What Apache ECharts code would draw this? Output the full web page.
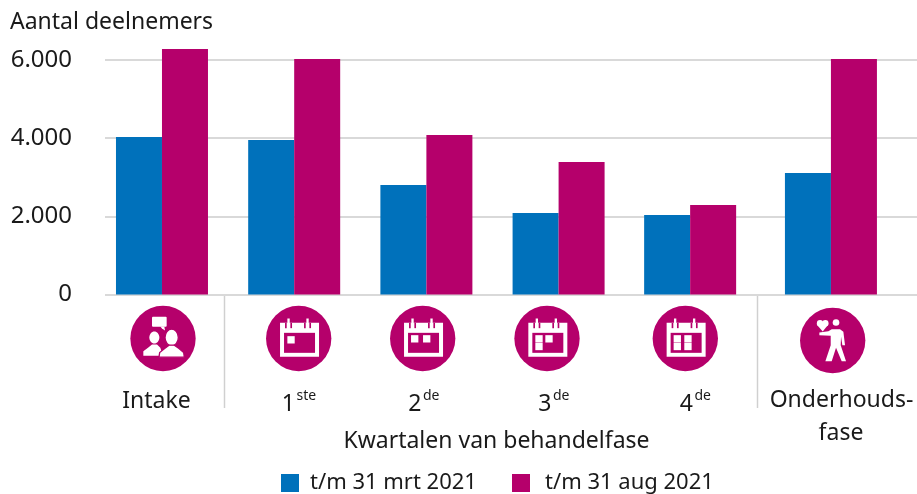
<!DOCTYPE html>
<html lang="nl">
<head>
<meta charset="UTF-8">
<title>Aantal deelnemers</title>
<script src="https://cdn.jsdelivr.net/npm/echarts@6/dist/echarts.min.js"></script>
<style>
  html, body { margin: 0; padding: 0; background: #fff; }
  #chart { width: 917px; height: 494px; }
</style>
</head>
<body>
<div id="chart"></div>
<script>
const fontName = '"Noto Sans"';
const textColor = '#1a1a1a';
const blue = '#0071bb';
const magenta = '#b5006b';
const grey = '#d9d9d9';

const seriesNames = ['t/m 31 mrt 2021', 't/m 31 aug 2021'];
// group slots along the x axis, the last group sits a little further out
const slots = [0, 1, 2, 3, 3.995, 5.06];
const mrt2021 = [4030, 3950, 2800, 2085, 2035, 3110];
const aug2021 = [6280, 6025, 4080, 3390, 2290, 6025];
const yTicks = [0, 2000, 4000, 6000];

const chart = echarts.init(document.getElementById('chart'));

function txt(x, y, text, extra) {
  return {
    type: 'text', x: x, y: y, silent: true,
    style: Object.assign({
      text: text, fill: textColor, font: '23px ' + fontName,
      textAlign: 'center', textVerticalAlign: 'middle'
    }, extra || {})
  };
}

// ordinal label: large digit plus raised suffix
function ordinal(x, y, num, suffix) {
  return {
    type: 'group', silent: true, children: [
      txt(x, y, num, { textAlign: 'right' }),
      txt(x + 1.5, y - 8, suffix, { textAlign: 'left', font: '14px ' + fontName })
    ]
  };
}

function sepLine(x) {
  return {
    type: 'line', silent: true,
    shape: { x1: x, y1: 296, x2: x, y2: 408 },
    style: { stroke: '#d0d0d0', lineWidth: 1.5 }
  };
}

// icons are drawn in 3x units round the centre of the disc
function icon(cx, cy, children) {
  return {
    type: 'group', x: cx, y: cy, scaleX: 1 / 3, scaleY: 1 / 3, silent: true,
    children: [{ type: 'circle', shape: { cx: 0, cy: 0, r: 98 }, style: { fill: magenta } }].concat(children)
  };
}

const W = { fill: '#fff' };
function box(x, y, w, h, fill) {
  return { type: 'rect', shape: { x: x, y: y, width: w, height: h }, style: { fill: fill || '#fff' } };
}

function calendar(squares) {
  const parts = [
    box(-56, -47, 117, 102),
    box(-44, -17, 93, 60, magenta),
    box(-34, -60, 7, 30), box(23, -60, 7, 30),
    box(-41, -47, 5, 16, magenta), box(-25, -47, 5, 16, magenta),
    box(16, -47, 5, 16, magenta), box(32, -47, 5, 16, magenta)
  ];
  squares.forEach(s => parts.push(box(s[0], s[1], 22, 22)));
  return parts;
}

function poly(points, smooth, stroke) {
  return {
    type: 'polygon', shape: { points: points, smooth: smooth || 0 },
    style: { fill: '#fff', stroke: stroke ? magenta : null, lineWidth: stroke ? 4 : 0 }
  };
}

const peopleIcon = [
  { type: 'rect', shape: { x: -33, y: -65, width: 44, height: 30, r: 3 }, style: W },
  poly([[-8, -36], [4, -36], [6, -24], [-3, -30]]),
  { type: 'ellipse', shape: { cx: -26, cy: -3, rx: 15, ry: 18 }, style: W },
  poly([[-59, 52], [-59, 38], [-45, 28], [-33, 18], [-18, 18], [-8, 28], [0, 52]]),
  { type: 'ellipse', shape: { cx: 26, cy: -3, rx: 20, ry: 25 }, style: { fill: '#fff', stroke: magenta, lineWidth: 4 } },
  poly([[-12, 56], [-10, 42], [5, 30], [18, 20], [34, 20], [48, 30], [62, 42], [64, 56]], 0, true)
];

const personIcon = [
  { type: 'circle', shape: { cx: -38, cy: -52, r: 9.5 }, style: W },
  { type: 'circle', shape: { cx: -22, cy: -52, r: 9.5 }, style: W },
  poly([[-48, -48], [-30, -27], [-13, -48], [-30, -54]]),
  { type: 'circle', shape: { cx: 10, cy: -54, r: 10 }, style: W },
  poly([[-40, -24], [-13, -28], [-3, -34], [22, -34], [32, -26], [37, 14], [29, 14], [25, -11], [24, 14],
        [40, 62], [27, 62], [10, 22], [-3, 62], [-22, 62], [-6, 14], [-6, -14], [-40, -16]])
];

function legendFor(name, left, gap) {
  return {
    data: [name], left: left, top: 472, padding: 0, itemWidth: 18, itemHeight: 18,
    icon: 'rect', selectedMode: false,
    textStyle: { fontFamily: fontName, fontSize: 22, color: textColor, padding: [0, 0, 0, gap], lineHeight: 18 }
  };
}

chart.setOption({
  animation: false,
  textStyle: { fontFamily: fontName, color: textColor },
  title: {
    text: 'Aantal deelnemers', left: 5, top: 6,
    textStyle: { fontFamily: fontName, fontWeight: 'normal', fontSize: 23, color: textColor }
  },
  grid: { left: 105, right: 0, top: 60, height: 234.5 },
  xAxis: {
    type: 'value', min: -0.431, max: 5.711,
    axisLine: { show: false }, axisTick: { show: false }, axisLabel: { show: false }, splitLine: { show: false }
  },
  yAxis: {
    type: 'value', min: yTicks[0], max: yTicks[3], interval: 2000,
    axisLine: { show: false }, axisTick: { show: false },
    axisLabel: {
      margin: 33, fontSize: 24, fontFamily: fontName, color: textColor,
      formatter: v => String(v).replace(/\B(?=(\d{3})+$)/g, '.')
    },
    splitLine: { lineStyle: { color: grey, width: 2 } }
  },
  legend: [legendFor(seriesNames[0], 281, 6), legendFor(seriesNames[1], 512, 10)],
  series: [
    { name: seriesNames[0], type: 'bar', barWidth: 46, barGap: 0, clip: false, itemStyle: { color: blue },
      data: slots.map((x, i) => [x, mrt2021[i]]) },
    { name: seriesNames[1], type: 'bar', barWidth: 46, barGap: 0, clip: false, itemStyle: { color: magenta },
      data: slots.map((x, i) => [x, aug2021[i]]) }
  ],
  graphic: [
    sepLine(224.5), sepLine(757.5),
    icon(163, 338.5, peopleIcon),
    icon(298.7, 338.5, calendar([[-34, -7]])),
    icon(422.7, 338.5, calendar([[-35, -10], [1, -10]])),
    icon(547, 338.5, calendar([[-35, -10], [-5, -10], [-35, 13]])),
    icon(685.3, 338.5, calendar([[-35, -10], [-3, -10], [-35, 13], [-3, 13]])),
    icon(832.7, 340.5, personIcon),
    txt(156.5, 401, 'Intake'),
    ordinal(295, 404, '1', 'ste'),
    ordinal(421.5, 404, '2', 'de'),
    ordinal(551.5, 404, '3', 'de'),
    ordinal(693, 404, '4', 'de'),
    txt(841.5, 400, 'Onderhouds-'),
    txt(841, 433, 'fase'),
    txt(496.5, 441, 'Kwartalen van behandelfase')
  ]
});
</script>
</body>
</html>
